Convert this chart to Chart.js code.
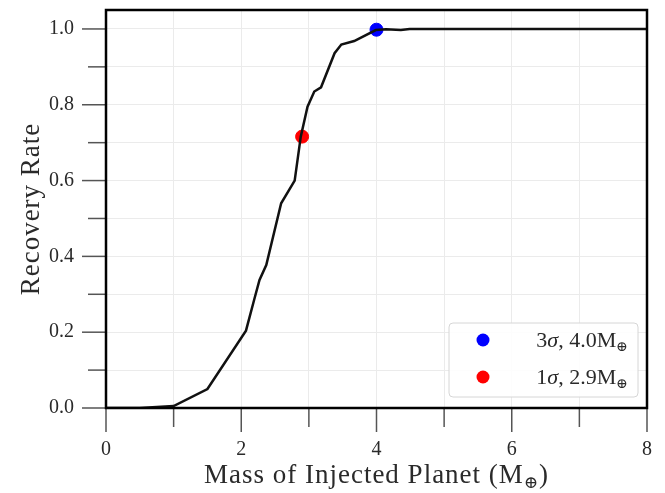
<!DOCTYPE html>
<html>
<head>
<meta charset="utf-8">
<script src="https://cdn.jsdelivr.net/npm/chart.js@4.4.1/dist/chart.umd.min.js"></script>
<style>
  html, body { margin: 0; padding: 0; background: #fff; }
  canvas { display: block; }
</style>
</head>
<body>
<canvas id="recoveryChart" width="665" height="493"></canvas>
<script>
// Recovery curve
const massValues = [0, 0.5, 1.0, 1.5, 2.07, 2.19, 2.27, 2.37, 2.59, 2.79, 2.88, 2.98, 3.08, 3.18, 3.38, 3.48, 3.67, 3.99, 4.14, 4.36, 4.49, 8];
const recoveryValues = [0, 0, 0.005, 0.05, 0.204, 0.285, 0.338, 0.377, 0.54, 0.60, 0.716, 0.795, 0.835, 0.846, 0.936, 0.959, 0.968, 0.997, 0.999, 0.997, 1.0, 1.0];

// Highlighted thresholds
const markerLabels = ['3σ, 4.0M', '1σ, 2.9M'];
const markerMass = [4.0, 2.9];
const markerRate = [0.998, 0.716];
const markerColors = ['#0000ff', '#ff0000'];

const xTicks = [0, 1, 2, 3, 4, 5, 6, 7, 8];
const yTicks = [0, 0.1, 0.2, 0.3, 0.4, 0.5, 0.6, 0.7, 0.8, 0.9, 1.0];

const SERIF = '"Liberation Serif", "DejaVu Serif", serif';
const TEXT = '#2a2a2a';

// draws text pieces [text, font, dy] one after another, returns total width
function drawPieces(ctx, pieces, x, y, measureOnly) {
    let w = 0;
    pieces.forEach(([t, f, dy]) => {
        ctx.font = f;
        if (!measureOnly) ctx.fillText(t, x + w, y + (dy || 0));
        w += ctx.measureText(t).width;
    });
    return w;
}

const framePlugin = {
    id: 'frame',
    afterDatasetsDraw(chart) {
        const { ctx, chartArea } = chart;
        const xs = chart.scales.x, ys = chart.scales.y;
        ctx.save();

        // tick marks: long on labelled ticks, shorter on the others
        ctx.strokeStyle = '#555';
        ctx.lineWidth = 1.5;
        xTicks.forEach(v => {
            const px = xs.getPixelForValue(v);
            const len = v % 2 === 0 ? 24 : 19;
            ctx.beginPath();
            ctx.moveTo(px, chartArea.bottom);
            ctx.lineTo(px, chartArea.bottom + len);
            ctx.stroke();
        });
        yTicks.forEach(v => {
            const py = ys.getPixelForValue(v);
            const len = Math.round(v * 10) % 2 === 0 ? 24 : 18;
            ctx.beginPath();
            ctx.moveTo(chartArea.left, py);
            ctx.lineTo(chartArea.left - len, py);
            ctx.stroke();
        });

        ctx.strokeStyle = '#000';
        ctx.lineWidth = 2.5;
        ctx.strokeRect(chartArea.left, chartArea.top, chartArea.right - chartArea.left, chartArea.bottom - chartArea.top);

        // axis titles
        ctx.fillStyle = TEXT;
        ctx.textBaseline = 'alphabetic';
        ctx.letterSpacing = '1px';
        const big = '27px ' + SERIF;
        const small = '17px ' + SERIF;
        const xt = [['Mass of Injected Planet (M', big], ['⊕', small, 5], [')', big]];
        const xw = drawPieces(ctx, xt, 0, 0, true);
        drawPieces(ctx, xt, (chartArea.left + chartArea.right) / 2 - xw / 2, 483);

        ctx.save();
        ctx.translate(39, (chartArea.top + chartArea.bottom) / 2);
        ctx.rotate(-Math.PI / 2);
        ctx.font = big;
        ctx.textAlign = 'center';
        ctx.fillText('Recovery Rate', 0, 0);
        ctx.restore();
        ctx.letterSpacing = '0px';

        // legend
        const bw = 189, bh = 74;
        const bx = chartArea.right - 9 - bw;
        const by = chartArea.bottom - 11 - bh;
        ctx.beginPath();
        ctx.roundRect(bx, by, bw, bh, 4);
        ctx.fillStyle = 'rgba(255,255,255,0.9)';
        ctx.fill();
        ctx.strokeStyle = '#d6d6d6';
        ctx.lineWidth = 1;
        ctx.stroke();

        markerLabels.forEach((lab, i) => {
            const cy = by + 17 + i * 37;
            ctx.beginPath();
            ctx.arc(bx + 34, cy, 6.5, 0, Math.PI * 2);
            ctx.fillStyle = markerColors[i];
            ctx.fill();

            const parts = lab.split('σ');
            const f = '22px ' + SERIF;
            const pieces = [[parts[0], f], ['σ', 'italic ' + f], [parts[1], f], ['⊕', '14px ' + SERIF, 4]];
            ctx.fillStyle = TEXT;
            const w = drawPieces(ctx, pieces, 0, 0, true);
            drawPieces(ctx, pieces, bx + bw - 10 - w, cy + 7);
        });
        ctx.restore();
    }
};

const curve = massValues.map((m, i) => ({ x: m, y: recoveryValues[i] }));

const ctx = document.getElementById('recoveryChart').getContext('2d');
new Chart(ctx, {
    type: 'scatter',
    data: {
        datasets: [
            {
                label: 'Recovery',
                data: curve,
                showLine: true,
                borderColor: '#111',
                borderWidth: 2.5,
                pointRadius: 0,
                tension: 0
            },
            ...markerLabels.map((lab, i) => ({
                label: lab,
                data: [{ x: markerMass[i], y: markerRate[i] }],
                backgroundColor: markerColors[i],
                borderColor: markerColors[i],
                pointRadius: 6.5
            }))
        ]
    },
    options: {
        responsive: false,
        animation: false,
        layout: { padding: { top: 10, right: 18, left: 0, bottom: 0 } },
        plugins: {
            legend: { display: false },
            tooltip: { enabled: false }
        },
        scales: {
            x: {
                type: 'linear',
                min: 0,
                max: 8,
                afterBuildTicks: s => { s.ticks = xTicks.map(v => ({ value: v })); },
                afterFit: s => { s.height = 85; s.paddingLeft = 0; s.paddingRight = 0; },
                grid: { color: '#ebebeb', tickColor: 'rgba(0,0,0,0)', tickLength: 24, lineWidth: 1 },
                border: { display: false },
                ticks: {
                    callback: v => (v % 2 === 0 ? String(v) : ''),
                    font: { family: SERIF, size: 20 },
                    color: TEXT,
                    padding: 6,
                    maxRotation: 0
                }
            },
            y: {
                min: 0,
                max: 1.05,
                afterBuildTicks: s => { s.ticks = yTicks.map(v => ({ value: v })); },
                afterFit: s => { s.width = 106; s.paddingTop = 0; s.paddingBottom = 0; },
                grid: { color: '#ebebeb', tickColor: 'rgba(0,0,0,0)', tickLength: 24, lineWidth: 1 },
                border: { display: false },
                ticks: {
                    callback: v => (Math.round(v * 10) % 2 === 0 ? v.toFixed(1) : ''),
                    font: { family: SERIF, size: 20 },
                    color: TEXT,
                    padding: 8
                }
            }
        }
    },
    plugins: [framePlugin]
});
</script>
</body>
</html>
